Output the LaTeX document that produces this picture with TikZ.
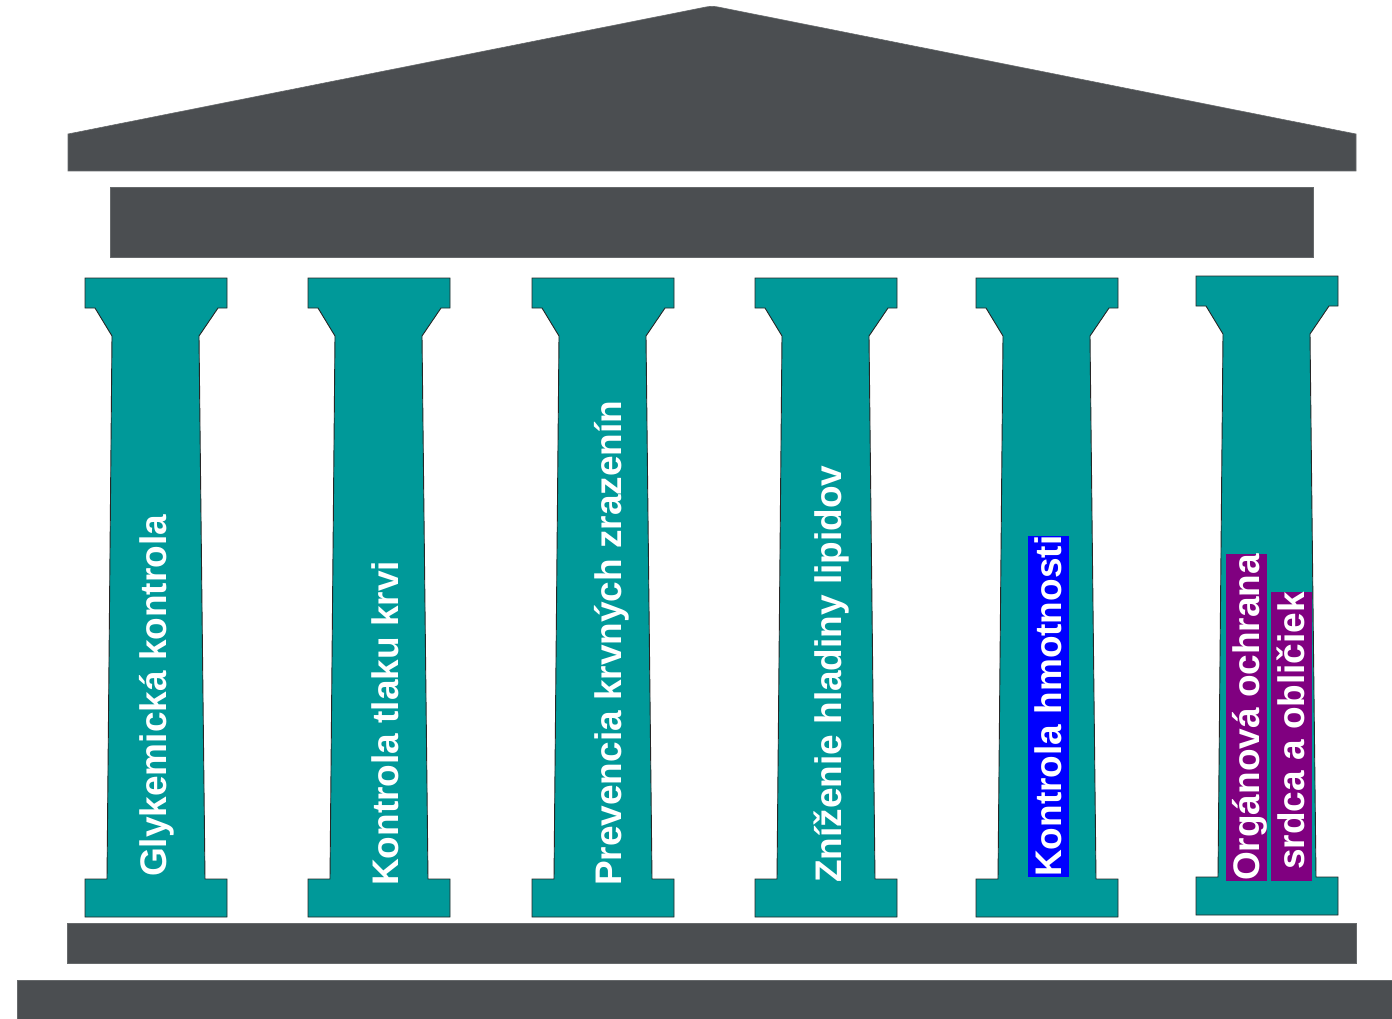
\documentclass[tikz,border=0pt]{standalone}
\usepackage{fontspec}
\setmainfont{Liberation Sans}
\usetikzlibrary{calc}
\definecolor{roofgray}{RGB}{75,78,81}
\definecolor{teal}{RGB}{0,153,153}
\definecolor{hlblue}{RGB}{0,0,255}
\definecolor{hlpurple}{RGB}{128,0,128}
\tikzset{
  graypart/.style={fill=roofgray, draw=roofgray!85!white, line width=0.6pt},
  pillar/.style={fill=teal, draw=black!85, line width=0.9pt, line join=miter},
  ptext/.style={rotate=90, anchor=base west, inner sep=0pt, text=white,
    font=\fontsize{37}{44}\selectfont\bfseries},
  hl/.style={ptext, text height=33.5pt, text depth=7.8pt}
}
\newcommand{\pillarshape}[3]{% left x, top y, bottom y
  \filldraw[pillar] (#1,#2) -- ++(142,0) -- ++(0,30) -- ++(-9,0)
    -- ($(#1,#2)+(114,58)$) -- ($(#1,#3)+(120,-38)$) -- ($(#1,#3)+(142,-38)$)
    -- ($(#1,#3)+(142,0)$) -- (#1,#3) -- ($(#1,#3)+(0,-38)$)
    -- ($(#1,#3)+(22,-38)$) -- ($(#1,#2)+(27,58)$) -- ($(#1,#2)+(10,30)$)
    -- ($(#1,#2)+(0,30)$) -- cycle;
}
\begin{document}
\begin{tikzpicture}[x=1pt, y=-1pt]
\useasboundingbox (0,0) rectangle (1392,1019);
% roof
\fill[graypart] (68,134) -- (706,7) to[out=10,in=170] (718,7) -- (1356,134) -- (1356,171) -- (68,171) -- cycle;
% entablature
\fill[graypart] (110,187) rectangle (1313,257);
% plinth and base
\fill[graypart] (67,923) rectangle (1356,963);
\fill[graypart] (17,980) rectangle (1392,1019);
% pillars
\pillarshape{85}{278}{917}
\pillarshape{308}{278}{917}
\pillarshape{532}{278}{917}
\pillarshape{755}{278}{917}
\pillarshape{976}{278}{917}
\pillarshape{1196}{276}{915}
% texts
\node[ptext] (t1) at (166,877) {Glykemická kontrola};
\node[ptext] (t2) at (398,886) {Kontrola tlaku krvi};
\node[ptext] (t3) at (621,886) {Prevencia krvných zrazenín};
\node[ptext] (t4) at (841,883) {Zníženie hladiny lipidov};
\node[hl, fill=hlblue] (t5) at (1061,877) {Kontrola hmotnosti};
\node[hl, fill=hlpurple] (t6a) at (1259,881) {Orgánová ochrana};
\node[hl, fill=hlpurple] (t6b) at (1304,881) {\hspace*{0.3em}srdca a obličiek};
\end{tikzpicture}
\end{document}
